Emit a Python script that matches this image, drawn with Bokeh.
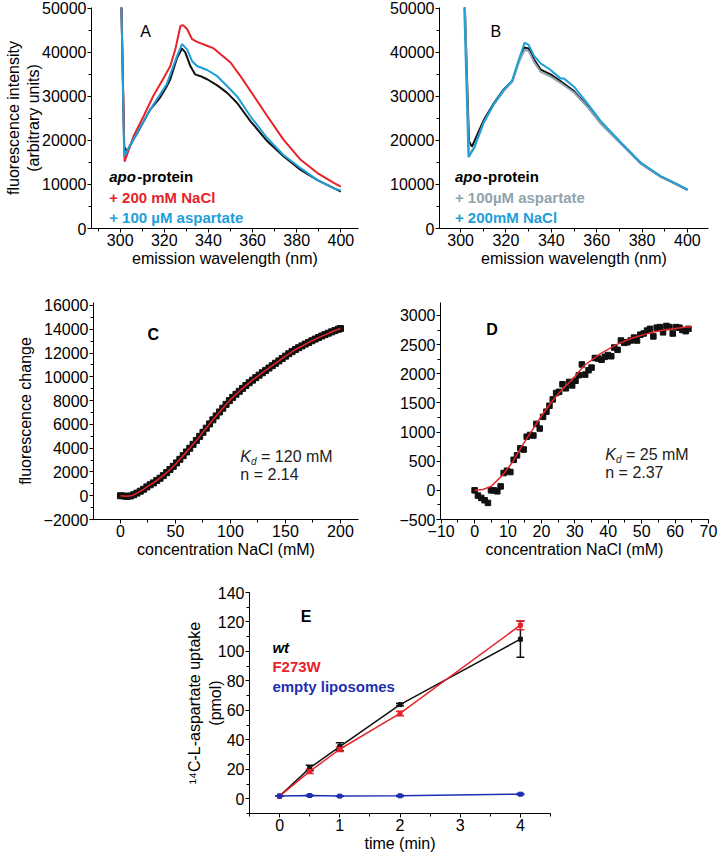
from bokeh.plotting import figure
from bokeh.layouts import column, row
from bokeh.models import Label, SingleIntervalTicker, Whisker, TeeHead, ColumnDataSource
from bokeh.embed import file_html
from bokeh.resources import INLINE

FONT = "Liberation Sans"
BLACK = "#111111"
RED = "#e8232a"
CYAN = "#1e9fd8"
GRAY = "#8fa4ae"
NAVY = "#1f2fb4"

# ---------------- Panel A ----------------
A_apo_wl = [300.5, 301.8, 303, 306, 309, 313.6, 318, 321, 322.7, 325.8, 328, 329.5, 331.8, 334, 336.4,
            339.4, 344, 348.5, 353, 359, 366.7, 374, 381.8, 389.4, 397, 400]
A_apo = [52000, 18600, 17500, 20200, 22800, 27000, 29700, 32200, 33900, 38800, 40870, 40000, 36900, 35000,
         34600, 33900, 32500, 30800, 28500, 24400, 19800, 16400, 13300, 11000, 9100, 8400]
A_nacl_wl = [300.5, 302, 306, 310.6, 315, 319.7, 322.7, 325, 327.3, 328.5, 330.3, 332.6, 334.8, 339.4, 342.4,
             345.5, 350, 354.5, 360.6, 366.7, 374, 381.8, 389.4, 397, 400]
A_nacl = [52000, 15200, 20900, 25500, 30100, 34200, 36900, 40700, 46000, 46200, 45300, 43000, 42400, 41500,
          40900, 39600, 37700, 34600, 30100, 25500, 20200, 15600, 12600, 10300, 9500]
A_asp_wl = [300.5, 301.8, 306, 313.6, 321, 325.8, 328, 330.3, 332.6, 334.8, 339.4, 344, 348.5, 353, 359,
            366.7, 374, 381.8, 389.4, 397, 400]
A_asp = [52000, 16400, 20200, 27000, 32700, 39200, 41900, 40700, 38000, 36900, 36000, 34600, 32300, 30000,
         25500, 20500, 16700, 13700, 11000, 9100, 8600]

# ---------------- Panel B ----------------
B_apo_wl = [301.8, 303.7, 305, 310.3, 314.7, 319, 322.8, 325.7, 328, 330, 332.4, 335.3, 339.7, 344, 350,
            355.9, 361.8, 370.6, 379.4, 388.2, 395.6, 400]
B_apo = [52000, 19800, 18600, 24700, 28500, 31600, 33500, 38000, 41100, 40900, 38400, 36100, 35000, 33500,
         31200, 27800, 24000, 19400, 14800, 11800, 9900, 8800]
B_asp_wl = [301.8, 303.7, 306, 310.3, 314.7, 319, 322.8, 325.7, 328.3, 330, 332.4, 335.3, 339.7, 344, 350,
            355.9, 361.8, 370.6, 379.4, 388.2, 395.6, 400]
B_asp = [52000, 16700, 18500, 24200, 28200, 31200, 33300, 37800, 40600, 40300, 37800, 35600, 34500, 33100,
         30900, 27600, 23800, 19300, 14800, 11800, 9900, 8700]
B_nacl_wl = [301.5, 303.5, 306, 310.3, 314.7, 319, 322.8, 325.7, 328.2, 330, 332.4, 335.3, 339.7, 344,
             345.5, 350, 355.9, 361.8, 370.6, 379.4, 388.2, 395.6, 400]
B_nacl = [52000, 16200, 18300, 24200, 28300, 31500, 33700, 38400, 42200, 41700, 39200, 37500, 36000, 34100,
          34100, 32200, 28400, 24400, 19600, 15000, 11900, 10100, 8800]

# ---------------- Panel C ----------------
C_conc = [0, 3, 6, 9, 12, 15, 18, 21, 24, 27, 30, 33, 36, 39, 42, 45, 48, 51, 54, 57, 60, 63, 66, 69, 72,
          75, 78, 81, 84, 87, 90, 93, 96, 99, 102, 105, 108, 111, 114, 117, 120, 123, 126, 129, 132, 135,
          138, 141, 144, 147, 150, 153, 156, 159, 162, 165, 168, 171, 174, 177, 180, 183, 186, 189, 192,
          195, 198, 200]
C_signal = [0, -20, -60, -20, 80, 220, 380, 540, 740, 920, 1080, 1280, 1470, 1690, 1940, 2200, 2470, 2760,
            3060, 3370, 3680, 3990, 4320, 4650, 4990, 5330, 5680, 6040, 6380, 6710, 7040, 7360, 7680, 8000,
            8270, 8530, 8780, 9030, 9270, 9500, 9720, 9930, 10140, 10340, 10540, 10740, 10940, 11140, 11340,
            11540, 11740, 11940, 12120, 12290, 12450, 12600, 12750, 12890, 13030, 13170, 13300, 13430,
            13550, 13670, 13780, 13890, 14000, 14060]
C_fit_conc = [0, 5, 10, 15, 20, 25, 30, 40, 50, 60, 70, 80, 90, 100, 110, 120, 130, 140, 150, 160, 170,
              180, 190, 200]
C_fit = [0, -50, -10, 220, 480, 800, 1080, 1770, 2640, 3680, 4760, 5920, 7040, 8090, 8950, 9720, 10410,
         11070, 11740, 12340, 12840, 13300, 13700, 14060]

# ---------------- Panel D ----------------
D_conc = [0, 1, 2, 3, 4, 4.9, 5.8, 6.8, 7.8, 8.7, 9.7, 10.7, 11.7, 12.7, 13.7, 14.7, 15.6, 16.6, 17.6,
          18.5, 19.5, 20.5, 21.5, 22.4, 23.4, 24.4, 25.3, 26.3, 27.3, 28.3, 29.2, 30.2, 31.2, 32.1, 33.1,
          34.1, 35, 36, 37, 38, 39, 39.9, 40.9, 41.8, 42.8, 43.8, 44.8, 45.7, 46.7, 47.7, 48.6, 49.6, 50.6,
          51.6, 52.5, 53.5, 54.5, 55.4, 56.4, 57.4, 58.3, 59.3, 60.3, 61.3, 62.2, 63.2, 64]
D_signal = [0, -90, -130, -170, -215, 0, 0, -17, 68, 297, 336, 314, 524, 600, 720, 700, 920, 950, 940,
            1140, 1060, 1260, 1350, 1450, 1560, 1670, 1690, 1820, 1750, 1860, 1800, 1880, 1975, 2160, 1985,
            2060, 2105, 2270, 2260, 2240, 2290, 2320, 2300, 2450, 2410, 2570, 2530, 2540, 2570, 2620, 2570,
            2670, 2690, 2740, 2770, 2640, 2790, 2800, 2710, 2820, 2800, 2690, 2800, 2790, 2750, 2730, 2770]
D_fit_conc = [0, 2.5, 5, 8.5, 11.5, 14.4, 17.3, 20.2, 23.1, 26, 29, 32.9, 37.7, 42.6, 47.4, 52.3, 57.1,
              60, 63.5, 65]
D_fit = [0, 15, 70, 270, 495, 780, 1036, 1292, 1519, 1719, 1890, 2146, 2345, 2504, 2618, 2697, 2755,
         2775, 2800, 2808]

# ---------------- Panel E ----------------
E_time = [0, 0.5, 1, 2, 4]
E_wt = [1.8, 20.9, 35.4, 63.9, 108.3]
E_wt_err = [0, 1.8, 2.6, 0.8, 12.3]
E_mut = [1.8, 18.6, 33.6, 57.9, 117.8]
E_mut_err = [0, 1.5, 1.5, 1.5, 3.0]
E_empty = [1.8, 2.2, 1.8, 2.0, 3.1]
E_empty_err = [0, 0.4, 0.3, 0.4, 0.4]


def style(p, xint, yint, ylab_standoff=1):
    p.xgrid.visible = False
    p.ygrid.visible = False
    p.outline_line_color = None
    p.background_fill_color = "white"
    p.border_fill_color = "white"
    for ax in (p.xaxis[0], p.yaxis[0]):
        ax.axis_line_color = "black"
        ax.axis_line_width = 1
        ax.major_tick_line_color = "black"
        ax.minor_tick_line_color = "black"
        ax.major_tick_out = 4
        ax.major_tick_in = 0
        ax.minor_tick_out = 3
        ax.minor_tick_in = 0
        ax.major_label_text_font = FONT
        ax.major_label_text_font_size = "16px"
        ax.major_label_text_color = "black"
        ax.axis_label_text_font = FONT
        ax.axis_label_text_font_size = "16px"
        ax.axis_label_text_font_style = "normal"
        ax.axis_label_text_color = "black"
        ax.major_label_standoff = 1
        ax.axis_label_standoff = 1
    p.yaxis[0].axis_label_standoff = ylab_standoff
    p.xaxis[0].ticker = SingleIntervalTicker(interval=xint, num_minor_ticks=2)
    p.yaxis[0].ticker = SingleIntervalTicker(interval=yint, num_minor_ticks=2)


def lab(p, x, y, text, color="black", size="15px", style="bold", xoff=0):
    p.add_layout(Label(x=x, y=y, text=text, text_font=FONT, text_font_size=size, text_font_style=style,
                       text_color=color, text_baseline="middle", text_align="left", x_offset=xoff))


common = dict(output_backend="svg", toolbar_location=None)

# A
pA = figure(width=380, height=282, x_range=(287, 408), y_range=(0, 50200),
            min_border_left=91, min_border_right=22, min_border_top=7, min_border_bottom=54, **common)
style(pA, 20, 10000, ylab_standoff=-3)
pA.xaxis.axis_label = "emission wavelength (nm)"
pA.yaxis.axis_label = "fluorescence intensity\n(arbitrary units)"
pA.line(A_apo_wl, A_apo, color=BLACK, line_width=2)
pA.line(A_nacl_wl, A_nacl, color=RED, line_width=2)
pA.line(A_asp_wl, A_asp, color=CYAN, line_width=2)
lab(pA, 309.1, 44770, "A", style="normal", size="16px")
lab(pA, 295.0, 11820, "apo", style="bold italic")
lab(pA, 295.0, 11820, "-protein", xoff=28.2)
lab(pA, 295.0, 7040, "+ 200 mM NaCl", color=RED)
lab(pA, 295.0, 2500, "+ 100 \u00b5M aspartate", color=CYAN)

# B
pB = figure(width=339, height=282, x_range=(290.7, 409.3), y_range=(0, 50200),
            min_border_left=59, min_border_right=11, min_border_top=7, min_border_bottom=54, **common)
style(pB, 20, 10000)
pB.xaxis.axis_label = "emission wavelength (nm)"
pB.line(B_apo_wl, B_apo, color=BLACK, line_width=2)
pB.line(B_asp_wl, B_asp, color=GRAY, line_width=2)
pB.line(B_nacl_wl, B_nacl, color=CYAN, line_width=2)
lab(pB, 313.2, 44770, "B", style="normal", size="16px")
lab(pB, 297.5, 11820, "apo", style="bold italic")
lab(pB, 297.5, 11820, "-protein", xoff=28.2)
lab(pB, 297.5, 7040, "+ 100\u00b5M aspartate", color=GRAY)
lab(pB, 297.5, 2500, "+ 200mM NaCl", color=CYAN)

# C
pC = figure(width=380, height=303, x_range=(-24.5, 216.4), y_range=(-2000, 16250),
            min_border_left=93, min_border_right=22, min_border_top=15, min_border_bottom=66, **common)
style(pC, 50, 2000, ylab_standoff=7)
pC.xaxis.axis_label = "concentration NaCl (mM)"
pC.yaxis.axis_label = "fluorescence change"
pC.scatter(C_conc, C_signal, marker="square", size=6, color=BLACK)
pC.line(C_fit_conc, C_fit, color=RED, line_width=1.5)
lab(pC, 24.5, 13590, "C", size="16px")
lab(pC, 109, 3280, "K", style="italic", size="16px", color="#222222")
lab(pC, 109, 3280 - 400, "d", style="italic", size="10px", color="#222222", xoff=10.7)
lab(pC, 109, 3280, "= 120 mM", style="normal", size="16px", color="#222222", xoff=20.7)
lab(pC, 109, 1780, "n = 2.14", style="normal", size="16px", color="#222222")

# D
pD = figure(width=339, height=303, x_range=(-10.2, 70), y_range=(-500, 3222),
            min_border_left=60, min_border_right=11, min_border_top=20, min_border_bottom=65, **common)
style(pD, 10, 500)
pD.xaxis.axis_label = "concentration NaCl (mM)"
pD.scatter(D_conc, D_signal, marker="square", size=5.5, color=BLACK)
pD.line(D_fit_conc, D_fit, color=RED, line_width=1.5)
lab(pD, 3.5, 2760, "D", size="16px")
lab(pD, 39.1, 609, "K", style="italic", size="16px", color="#222222")
lab(pD, 39.1, 609 - 85, "d", style="italic", size="10px", color="#222222", xoff=10.7)
lab(pD, 39.1, 609, "= 25 mM", style="normal", size="16px", color="#222222", xoff=20.7)
lab(pD, 39.1, 302, "n = 2.37", style="normal", size="16px", color="#222222")

# E
pE = figure(width=719, height=274, x_range=(-0.5, 4.5), y_range=(-10, 140),
            min_border_left=249, min_border_right=169, min_border_top=7, min_border_bottom=46, **common)
style(pE, 1, 20, ylab_standoff=-9)
pE.xaxis.axis_label = "time (min)"
pE.yaxis.axis_label = "\u00b9\u2074C-L-aspartate uptake\n(pmol)"
for vals, errs, col in ((E_wt, E_wt_err, BLACK), (E_mut, E_mut_err, RED), (E_empty, E_empty_err, NAVY)):
    src = ColumnDataSource(dict(t=E_time, v=vals,
                                lo=[v - e for v, e in zip(vals, errs)],
                                hi=[v + e for v, e in zip(vals, errs)]))
    pE.line("t", "v", source=src, color=col, line_width=1.5)
    pE.scatter("t", "v", source=src, marker="square", size=4, color=col)
    pE.add_layout(Whisker(base="t", lower="lo", upper="hi", source=src, line_color=col, line_width=1.5,
                          upper_head=TeeHead(size=8, line_color=col, line_width=1.5),
                          lower_head=TeeHead(size=8, line_color=col, line_width=1.5)))
lab(pE, 0.35, 123.4, "E", size="16px")
lab(pE, -0.12, 103, "wt", style="bold italic")
lab(pE, -0.12, 89.5, "F273W", color=RED)
lab(pE, -0.12, 75.9, "empty liposomes", color=NAVY)

layout = column(row(pA, pB), row(pC, pD), pE)
open("out.html", "w").write(file_html(layout, INLINE))
